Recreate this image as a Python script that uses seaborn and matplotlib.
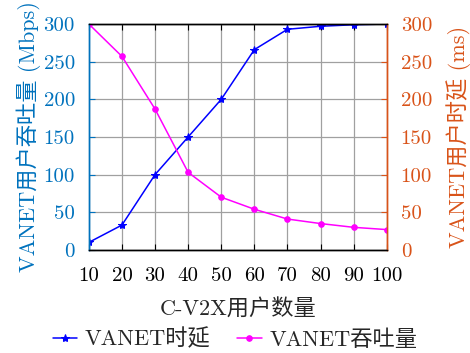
import matplotlib
matplotlib.use("Agg")
import matplotlib.pyplot as plt
import seaborn as sns
import pandas as pd

# Number of C-V2X users on the x axis
users = [10, 20, 30, 40, 50, 60, 70, 80, 90, 100]
# VANET user throughput (Mbps), left axis
throughput = [10, 33, 100, 150, 200, 266, 293, 297, 299, 300]
# VANET user delay (ms), right axis
delay = [300, 257, 187, 103, 70, 54, 41, 35, 30, 27]
y_ticks = [0, 50, 100, 150, 200, 250, 300]

left_color = "#0072BD"
right_color = "#D95319"

sns.set_theme(style="white")
plt.rcParams["font.family"] = ["cmr10", "Noto Sans CJK SC", "DejaVu Sans"]
plt.rcParams["axes.formatter.use_mathtext"] = True
plt.rcParams["axes.unicode_minus"] = False

df = pd.DataFrame({"users": users, "throughput": throughput, "delay": delay})

fig = plt.figure(figsize=(4.7, 3.53), dpi=100)
ax = fig.add_axes([0.189, 0.292, 0.634, 0.640])
ax2 = ax.twinx()

sns.lineplot(data=df, x="users", y="throughput", ax=ax, color="#0000FF",
             marker="*", markersize=6, markeredgecolor="#0000FF",
             linewidth=1.1, label="VANET时延", legend=False)
sns.lineplot(data=df, x="users", y="delay", ax=ax2, color="#FF00FF",
             marker="o", markersize=4, markeredgecolor="#FF00FF",
             linewidth=1.1, label="VANET吞吐量", legend=False)

tick_fs = 15
label_fs = 16
for a in (ax, ax2):
    a.set_xlim(10, 100)
    a.set_ylim(0, 300)
    a.set_yticks(y_ticks)

ax.set_xticks(users)
ax.set_xticklabels([str(u) for u in users], fontsize=tick_fs)
ax.set_yticklabels([str(t) for t in y_ticks], fontsize=tick_fs, color=left_color)
ax2.set_yticklabels([str(t) for t in y_ticks], fontsize=tick_fs, color=right_color)

ax.grid(True, color="#a0a0a0", linewidth=0.9)
ax.set_axisbelow(True)

ax.tick_params(axis="x", direction="in", length=4, width=0.8, colors="black",
               top=True, bottom=True, pad=12)
ax.tick_params(axis="y", direction="in", length=4, width=0.8, colors=left_color,
               left=True, right=False, pad=10)
ax2.tick_params(axis="y", direction="in", length=4, width=0.8, colors=right_color,
                right=True, left=False, pad=10)

for a in (ax, ax2):
    a.spines["top"].set_color("black")
    a.spines["bottom"].set_color("black")
    a.spines["left"].set_color(left_color)
    a.spines["right"].set_color(right_color)
    for s in a.spines.values():
        s.set_linewidth(1.0)
        s.set_visible(True)

ax.set_xlabel("C-V2X用户数量", fontsize=label_fs, labelpad=10)
ax.set_ylabel("VANET用户吞吐量 (Mbps)", fontsize=label_fs,
              color=left_color, labelpad=2)
ax2.set_ylabel("VANET用户时延 (ms)", fontsize=label_fs,
               color=right_color, labelpad=10)

handles = ax.get_lines()[:1] + ax2.get_lines()[:1]
labels = ["VANET时延", "VANET吞吐量"]
fig.legend(handles, labels, loc="lower center", bbox_to_anchor=(0.5, 0.0),
           ncol=2, frameon=False, fontsize=label_fs, handlelength=1.1,
           columnspacing=1.2, handletextpad=0.35, borderaxespad=0.0,
           borderpad=0.15)

fig.savefig("out.png", dpi=100)
